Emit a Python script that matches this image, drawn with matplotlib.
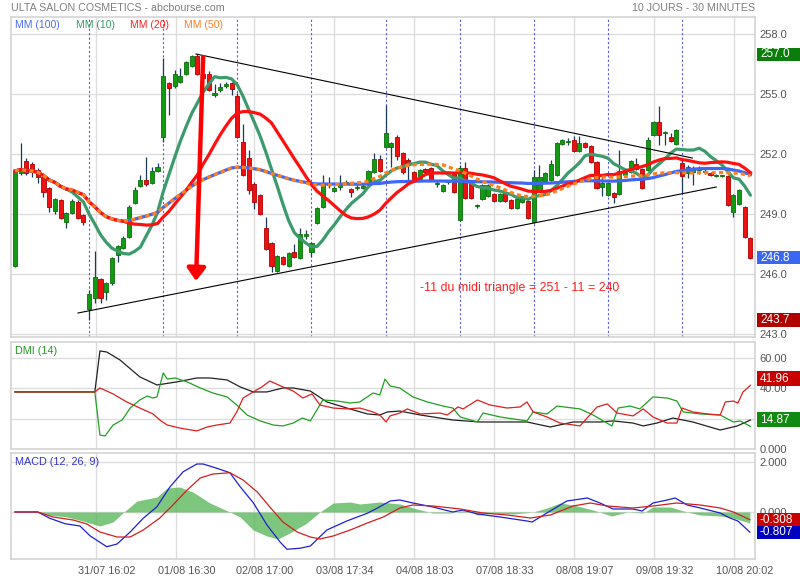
import numpy as np
import pandas as pd
import matplotlib
matplotlib.use("Agg")
import matplotlib.pyplot as plt
import matplotlib.transforms as mtransforms
from matplotlib.patches import Rectangle

plt.rcParams['font.family'] = ['Liberation Sans', 'DejaVu Sans']

# 30 minute bars, 13 per session, 10 sessions
opens = [246.40, 251.05, 251.65, 251.50, 251.20, 250.85, 250.30, 249.15, 249.70, 248.60, 249.05, 249.60, 248.95,
         244.25, 244.80, 245.75, 245.10, 245.55, 246.95, 247.30, 247.85, 249.55, 250.40, 250.70, 250.55, 251.15,
         252.85, 255.55, 255.40, 255.60, 256.00, 256.40, 256.90, 256.00, 256.00, 254.95, 255.20, 255.40, 255.55,
         254.90, 252.60, 251.80, 250.50, 249.95, 248.30, 247.55, 246.15, 246.85, 246.40, 247.10, 246.80, 247.90,
         247.10, 248.55, 249.35, 250.45, 250.15, 250.35, 250.55, 250.25, 250.30, 250.30, 250.60, 251.10, 251.75,
         252.35, 252.35, 252.85, 252.05, 251.70, 251.10, 250.75, 251.25, 251.30, 250.50, 250.15, 250.60, 251.05,
         248.70, 251.30, 250.55, 249.40, 249.75, 249.90, 250.00, 249.65, 250.05, 249.70, 249.30, 249.60, 249.65,
         248.60, 250.20, 250.65, 250.70, 250.95, 252.50, 252.60, 252.70, 252.15, 252.55, 252.40, 251.60, 250.35,
         249.95, 250.05, 250.00, 250.95, 251.10, 251.50, 251.25, 251.20, 252.95, 253.60, 253.05, 252.85, 252.50,
         251.55, 251.05, 251.10, 251.20, 251.10, 251.05, 250.90, 250.90, 250.90, 249.10, 249.50, 249.35, 247.80]
highs = [251.20, 252.55, 251.80, 251.60, 251.30, 250.90, 250.35, 249.80, 249.75, 249.10, 249.75, 249.70, 249.00,
         245.20, 247.15, 245.80, 245.60, 246.85, 247.45, 247.90, 249.45, 250.35, 250.95, 251.85, 251.35, 251.55,
         256.80, 255.60, 256.20, 256.30, 256.65, 256.95, 257.00, 256.20, 256.15, 255.50, 255.55, 255.60, 255.60,
         255.05, 253.50, 252.20, 250.60, 250.00, 248.85, 247.60, 246.95, 246.90, 247.10, 247.50, 248.30, 248.20,
         247.60, 249.35, 250.95, 250.85, 250.40, 250.95, 250.70, 250.30, 250.55, 250.50, 251.20, 252.05, 251.95,
         254.45, 252.60, 252.95, 252.10, 251.80, 251.15, 251.25, 251.30, 251.35, 250.65, 250.50, 250.70, 251.10,
         251.45, 251.60, 250.60, 249.50, 250.50, 250.50, 250.05, 250.05, 250.10, 249.75, 249.80, 249.90, 249.70,
         251.20, 251.45, 251.10, 251.70, 252.60, 252.75, 252.80, 252.90, 252.90, 252.60, 252.45, 251.65, 250.85,
         250.60, 250.10, 252.20, 251.15, 251.70, 251.80, 251.30, 252.85, 253.65, 254.40, 253.15, 253.05, 253.25,
         251.70, 251.45, 251.40, 251.40, 251.30, 251.10, 251.00, 250.95, 250.95, 250.00, 250.25, 249.40, 247.85]
lows = [246.35, 250.95, 250.95, 250.85, 250.55, 249.85, 249.10, 249.00, 248.75, 248.30, 249.00, 248.75, 248.45,
        243.70, 244.55, 244.55, 244.70, 245.45, 246.60, 247.25, 247.80, 249.50, 250.35, 250.40, 250.50, 251.10,
        252.60, 253.95, 255.30, 255.55, 255.95, 256.35, 255.95, 255.60, 255.15, 254.85, 255.10, 255.30, 254.95,
        252.80, 250.90, 250.00, 249.25, 248.95, 247.20, 246.10, 246.10, 246.45, 246.35, 246.80, 246.75, 247.75,
        246.85, 248.50, 249.30, 250.30, 250.10, 250.20, 250.50, 249.85, 250.20, 250.25, 250.55, 251.05, 251.10,
        252.30, 251.35, 251.70, 251.00, 250.60, 250.60, 250.70, 251.05, 250.65, 250.35, 250.10, 250.50, 250.05,
        248.65, 249.75, 249.75, 249.30, 249.70, 249.85, 249.60, 249.60, 249.60, 249.25, 249.25, 249.55, 248.75,
        248.55, 250.15, 250.60, 250.65, 250.90, 252.45, 252.45, 252.10, 252.10, 252.30, 251.55, 250.25, 249.90,
        249.90, 249.55, 249.95, 250.90, 251.05, 251.20, 250.25, 251.15, 252.90, 252.45, 252.45, 252.60, 252.45,
        250.05, 250.80, 250.45, 251.00, 251.00, 250.90, 250.85, 250.85, 249.40, 248.85, 249.45, 247.80, 246.75]
closes = [251.15, 251.30, 251.05, 251.10, 250.85, 250.10, 249.35, 249.75, 248.80, 249.05, 249.65, 248.80, 248.60,
          245.00, 245.85, 244.80, 245.55, 246.80, 247.40, 247.80, 249.35, 250.20, 250.70, 250.50, 251.15, 251.35,
          255.90, 255.30, 256.00, 255.90, 256.60, 256.90, 256.00, 255.80, 255.20, 255.05, 255.35, 255.50, 255.25,
          252.85, 250.95, 250.20, 249.60, 249.00, 247.25, 246.40, 246.90, 246.50, 247.05, 246.85, 248.00, 248.00,
          247.55, 249.30, 250.45, 250.55, 250.30, 250.45, 250.60, 250.10, 250.35, 250.40, 251.15, 251.75, 251.15,
          253.05, 252.55, 251.90, 251.10, 251.45, 250.65, 251.20, 251.10, 250.70, 250.55, 250.45, 250.60, 250.10,
          251.30, 249.80, 249.80, 249.40, 250.45, 250.45, 249.65, 250.00, 249.65, 249.30, 249.75, 249.85, 248.80,
          250.85, 250.85, 251.05, 251.50, 252.55, 252.70, 252.60, 252.15, 252.55, 252.35, 251.60, 250.30, 250.55,
          250.55, 249.85, 251.15, 251.10, 251.65, 251.25, 250.30, 252.70, 253.60, 252.95, 253.05, 252.65, 253.20,
          250.90, 251.35, 251.30, 251.20, 251.15, 250.95, 250.95, 250.90, 249.45, 249.95, 250.20, 247.85, 246.80]

ma_periods = [100, 10, 20, 50]
ma_labels = ["MM (100)", "MM (10)", "MM (20)", "MM (50)"]

tick_pos = [14.2, 28.2, 42.0, 56.0, 70.0, 84.0, 98.1, 112.1, 126.1]
tick_labels = ["31/07 16:02", "01/08 16:30", "02/08 17:00", "03/08 17:34", "04/08 18:03",
               "07/08 18:33", "08/08 19:07", "09/08 19:32", "10/08 20:02"]
session_starts = [13, 26, 39, 52, 65, 78, 91, 104, 117]

# triangle drawn by hand on the chart
upper_x, upper_y = [31.75, 118.8], [257.0, 251.8]
lower_x, lower_y = [11.05, 123.0], [244.05, 250.35]
arrow_from, arrow_to = (33.0, 256.85), (31.75, 245.65)

# DMI (14)
adx_x = [0, 14.0, 14.9, 16.1, 18.4, 21.9, 24.9, 28.4, 31.9, 34.2, 37.2, 39.5, 41.8, 44.2, 47.0, 48.8, 51.8, 54.7,
         58.2, 61.8, 64.0, 65.3, 67.5, 71.1, 76.8, 81.6, 85.1, 89.8, 93.9, 97.9, 102.6, 104.9, 108.4, 110.2, 112.6,
         115.4, 118.9, 123.7, 126.7, 129]
adx = [37.6, 37.6, 64.6, 63.9, 58.7, 47.5, 42.2, 44.2, 46.8, 46.8, 45.5, 40.9, 37.6, 37.6, 40.2, 40.2, 38.2, 31.0,
       27.0, 23.1, 22.4, 24.4, 25.0, 22.4, 19.1, 17.8, 17.8, 17.8, 14.5, 17.8, 17.8, 18.5, 17.1, 15.2, 17.1,
       20.4, 17.8, 12.5, 15.2, 19.1]
pdi_x = [0, 14.0, 14.9, 15.8, 17.2, 18.8, 20.2, 21.9, 23.2, 24.2, 24.9, 26.0, 26.7, 28.1, 30.2, 32.5, 34.7, 37.2,
         38.9, 40.7, 43.0, 45.3, 47.0, 48.8, 50.4, 51.8, 54.0, 56.5, 58.8, 60.5, 62.8, 64.0, 64.9, 65.8, 67.5, 69.8,
         72.3, 75.1, 76.8, 78.1, 81.1, 82.1, 85.1, 89.8, 90.9, 93.3, 95.1, 99.1, 101.4, 104.7, 105.8, 107.9, 109.6,
         111.9, 114.4, 116.1, 117.2, 120.2, 123.7, 126.0, 127.2, 129]
pdi = [37.6, 37.6, 9.2, 8.6, 15.8, 19.1, 27.0, 32.3, 34.9, 33.6, 34.3, 50.1, 46.1, 46.8, 44.2, 40.2, 36.9, 34.3,
       29.0, 22.4, 18.5, 15.8, 15.2, 17.1, 20.4, 18.5, 32.3, 31.6, 30.3, 31.0, 36.9, 35.6, 46.1, 41.5, 40.2, 34.3,
       31.0, 28.3, 27.0, 21.1, 17.8, 23.7, 21.1, 18.5, 24.4, 23.1, 28.3, 26.4, 22.4, 15.2, 27.0, 28.3, 26.4,
       34.3, 33.6, 31.6, 24.4, 23.1, 22.4, 17.8, 18.5, 14.87]
mdi_x = [0, 14.0, 14.9, 17.2, 19.6, 21.9, 24.2, 25.4, 26.7, 28.9, 31.9, 33.7, 35.4, 37.7, 38.9, 40.0, 41.8, 43.3,
         44.7, 47.0, 48.8, 50.5, 52.1, 53.5, 55.8, 58.2, 60.5, 62.8, 64.0, 65.1, 65.8, 67.5, 68.8, 71.1, 74.6, 75.8,
         77.7, 78.6, 81.1, 83.3, 86.3, 88.6, 89.8, 90.9, 93.3, 95.6, 99.1, 102.1, 103.9, 105.6, 108.4, 110.2, 111.9,
         114.4, 116.1, 117.0, 118.9, 121.4, 123.7, 124.6, 126.0, 126.8, 127.7, 129]
mdi = [37.6, 37.6, 40.2, 36.3, 31.0, 27.0, 23.1, 19.1, 15.8, 13.8, 11.9, 14.5, 15.8, 17.1, 24.4, 33.6, 37.6, 40.9,
       44.8, 40.9, 38.2, 33.6, 36.3, 29.0, 27.0, 26.4, 27.0, 24.4, 22.4, 17.8, 21.8, 23.7, 26.4, 23.1, 23.7, 22.4,
       27.7, 26.4, 32.3, 29.0, 27.0, 27.7, 31.0, 24.4, 21.1, 17.1, 15.2, 27.7, 29.7, 23.7, 21.8, 26.4, 21.1,
       17.1, 17.1, 27.0, 24.4, 23.1, 22.4, 31.0, 31.6, 30.3, 37.6, 41.96]

# MACD (12, 26, 9)
macd_x = [0, 4.0, 6.1, 8.8, 11.4, 13.2, 16.1, 17.9, 20.2, 22.5, 24.9, 27.2, 29.5, 31.9, 33.0, 35.4, 37.7, 39.5,
          41.8, 44.2, 46.5, 47.7, 50.0, 51.8, 54.7, 58.2, 61.8, 63.5, 65.8, 67.5, 69.8, 73.3, 76.8, 78.6, 81.1,
          85.1, 89.8, 90.7, 93.3, 96.8, 100.4, 102.6, 104.9, 108.4, 110.0, 111.9, 114.4, 115.8, 117.9, 120.2,
          123.7, 125.4, 126.8, 128.9]
macd = [0, 0, -0.25, -0.47, -0.56, -0.96, -1.39, -1.28, -0.80, -0.25, 0.21, 1.01, 1.61, 1.92, 1.92, 1.75, 1.57,
        1.01, 0.37, -0.52, -1.20, -1.49, -1.45, -1.36, -0.72, -0.36, -0.05, 0.15, 0.44, 0.48, 0.36, 0.20, 0.00,
        0.08, -0.08, -0.20, -0.36, -0.40, -0.04, 0.44, 0.56, 0.36, 0.12, 0.12, 0.04, 0.36, 0.48, 0.56, 0.28, 0.16,
        -0.04, -0.24, -0.36, -0.807]
sig_x = [0, 4.0, 6.7, 10.2, 12.6, 14.9, 17.9, 20.2, 22.5, 25.4, 27.7, 30.2, 32.5, 34.7, 37.7, 40.0, 42.5, 44.7,
         47.0, 49.5, 51.8, 53.5, 55.8, 58.8, 61.8, 64.6, 67.5, 69.8, 73.3, 78.1, 82.1, 86.3, 90.4, 93.9, 97.9,
         100.9, 103.9, 108.4, 111.9, 116.1, 120.2, 123.7, 126.0, 128.9]
signal = [0, 0, -0.20, -0.32, -0.48, -0.80, -1.00, -1.00, -0.72, -0.24, 0.28, 0.88, 1.36, 1.52, 1.57, 1.28, 0.80,
          0.20, -0.40, -0.80, -1.00, -1.08, -0.96, -0.72, -0.44, -0.20, 0.16, 0.28, 0.24, 0.12, -0.04, -0.12, -0.24,
          -0.12, 0.24, 0.36, 0.24, 0.16, 0.24, 0.36, 0.28, 0.16, 0.00, -0.308]
hist_x = [0, 4.0, 6.1, 9.1, 11.9, 14.9, 17.2, 18.9, 21.4, 24.9, 26.7, 28.9, 31.2, 34.2, 37.7, 39.5, 41.8, 44.2,
          46.1, 48.2, 51.2, 53.5, 55.8, 58.8, 60.5, 64.0, 67.5, 70.5, 73.3, 76.3, 79.3, 81.1, 83.9, 87.4, 90.9,
          93.3, 95.6, 97.9, 101.4, 104.7, 107.4, 110.2, 111.9, 114.9, 117.9, 120.2, 123.7, 126.0, 128.9]
hist = [0, 0, -0.12, -0.20, -0.36, -0.56, -0.40, -0.04, 0.44, 0.60, 0.96, 1.00, 0.80, 0.36, 0.00, -0.20, -0.72,
        -0.96, -1.08, -0.84, -0.44, 0.00, 0.36, 0.40, 0.32, 0.40, 0.32, 0.12, -0.04, -0.04, 0.08, -0.12, -0.04,
        -0.08, 0.00, 0.16, 0.36, 0.28, 0.08, -0.16, 0.00, -0.04, 0.20, 0.20, 0.00, -0.12, -0.16, -0.24, -0.44]

W, H = 800, 580
fig = plt.figure(figsize=(W / 100, H / 100), dpi=100)


def px_axes(top, bottom, left=11, right=755):
    return fig.add_axes([left / W, 1 - bottom / H, (right - left) / W, (bottom - top) / H])


def style_panel(ax, yticks, fmt):
    ax.set_xlim(-0.7, 129.8)
    ax.set_xticks(tick_pos)
    ax.set_yticks(yticks)
    ax.set_yticklabels([fmt(v) for v in yticks])
    ax.yaxis.tick_right()
    ax.tick_params(axis='y', length=0, pad=3.5, labelcolor='#555555', labelsize=8)
    ax.tick_params(axis='x', length=0, labelbottom=False)
    ax.grid(True, color='#dddddd', lw=1.0, zorder=0)
    ax.set_axisbelow(True)
    for sp in ax.spines.values():
        sp.set_color('#d4d4d4')
        sp.set_linewidth(1.2)


def tag(ax, value, text, color, px_per_unit, shift_px=0.0, half_px=6.5):
    # coloured value box sitting right of the axis
    tr = mtransforms.blended_transform_factory(fig.transFigure, ax.transData)
    mid = value + shift_px / px_per_unit
    h = half_px / px_per_unit
    fig.add_artist(Rectangle((757 / W, mid - h), 43 / W, 2 * h, transform=tr,
                             facecolor=color, edgecolor='none', zorder=5))
    fig.text(760 / W, mid, text, transform=tr, color='white', fontsize=8.5,
             va='center', ha='left', zorder=6)


# ---- price panel
ax = px_axes(17, 337)
style_panel(ax, [243, 246, 249, 252, 255, 258], lambda v: f"{v:.1f}")
ax.set_ylim(242.85, 258.85)

for s in session_starts:
    ax.axvline(s, color='#5a5aee', lw=0.8, ls=(0, (2, 2)), zorder=1)

idx = np.arange(len(closes))
o, hi, lo, c = map(np.array, (opens, highs, lows, closes))
up = c >= o
ax.vlines(idx, lo, hi, color='#1d3b57', lw=0.9, zorder=2)
ax.bar(idx, np.maximum(np.abs(c - o), 0.04), bottom=np.minimum(o, c), width=0.72,
       color=np.where(up, '#129a12', '#ee1111'), edgecolor=np.where(up, '#0b6e0b', '#b00000'),
       linewidth=0.6, zorder=3)

ma = {n: pd.Series(closes).rolling(n, min_periods=1).mean() for n in ma_periods}
ax.plot(idx, ma[10], color='#3d9a6c', lw=2.3, zorder=4, solid_capstyle='round')
ax.plot(idx, ma[100], color='#3f66f5', lw=2.3, zorder=5)
ax.plot(idx, ma[20], color='#ff1010', lw=2.3, zorder=6)
ax.plot(idx, ma[50], color='#ff7f1e', lw=2.3, ls=(0, (1.3, 1.0)), zorder=7)

ax.plot(upper_x, upper_y, color='black', lw=0.8, zorder=8)
ax.plot(lower_x, lower_y, color='black', lw=0.8, zorder=8)
ax.annotate('', xy=arrow_to, xytext=arrow_from, zorder=9,
            arrowprops=dict(arrowstyle='-|>,head_width=0.55,head_length=0.75', color='#ff0000',
                            lw=3.2, shrinkA=0, shrinkB=0))
ax.text(71.05, 245.3, "-11 du midi triangle = 251 - 11 = 240", color='#ff2020', fontsize=8.9,
        ha='left', va='center', zorder=9)

ma_colors = ['#4a6cf7', '#3a9a6a', '#ff2222', '#ff7f27']
for lab, col, xp in zip(ma_labels, ma_colors, [15, 76, 130, 184]):
    fig.text(xp / W, 1 - 25 / H, lab, color=col, fontsize=7.6, va='center', ha='left')

tag(ax, 257.0, "257.0", '#0a7d0a', 20)
tag(ax, 246.8, "246.8", '#3a66f0', 20)
tag(ax, 243.7, "243.7", '#b00000', 20)

# ---- DMI panel
ax2 = px_axes(342, 449)
style_panel(ax2, [0, 20, 40, 60], lambda v: "0.000" if v == 0 else f"{v:.2f}")
ax2.set_ylim(0, 70.5)
ax2.plot(adx_x, adx, color='#222222', lw=0.9, zorder=3)
ax2.plot(pdi_x, pdi, color='#22a022', lw=0.9, zorder=4)
ax2.plot(mdi_x, mdi, color='#dd2020', lw=0.9, zorder=5)
ax2.text(4 / 744, 1 - 9 / 107, "DMI (14)", transform=ax2.transAxes, color='#229922',
         fontsize=7.8, va='center', ha='left')
tag(ax2, 41.96, "41.96", '#c80000', 1.517, shift_px=6.5, half_px=7.5)
tag(ax2, 14.87, "14.87", '#108a10', 1.517, shift_px=6.5, half_px=7.5)

# ---- MACD panel
ax3 = px_axes(453, 559)
style_panel(ax3, [0, 2], lambda v: f"{v:.3f}")
ax3.set_ylim(-1.88, 2.36)
ax3.tick_params(axis='x', labelbottom=True, labelcolor='#555555', labelsize=7.8, pad=5)
ax3.set_xticklabels(tick_labels)
shift = mtransforms.ScaledTranslation(10.5 / 100, 0, fig.dpi_scale_trans)
for lbl in ax3.get_xticklabels():
    lbl.set_transform(lbl.get_transform() + shift)
ax3.fill_between(hist_x, 0, hist, color='#5cb85c', alpha=0.8, lw=0, zorder=2)
ax3.plot(macd_x, macd, color='#2020d0', lw=0.9, zorder=4)
ax3.plot(sig_x, signal, color='#d02020', lw=0.9, zorder=5)
ax3.text(4 / 744, 1 - 9 / 106, "MACD (12, 26, 9)", transform=ax3.transAxes, color='#3333cc',
         fontsize=7.8, va='center', ha='left')
tag(ax3, -0.308, "-0.308", '#c80000', 25)
tag(ax3, -0.807, "-0.807", '#0000c0', 25)

fig.text(11 / W, 1 - 8 / H, "ULTA SALON COSMETICS - abcbourse.com", color='#808080', fontsize=7.7,
         va='center', ha='left')
fig.text(755 / W, 1 - 8 / H, "10 JOURS - 30 MINUTES", color='#808080', fontsize=7.7,
         va='center', ha='right')

fig.savefig("out.png", dpi=100)
